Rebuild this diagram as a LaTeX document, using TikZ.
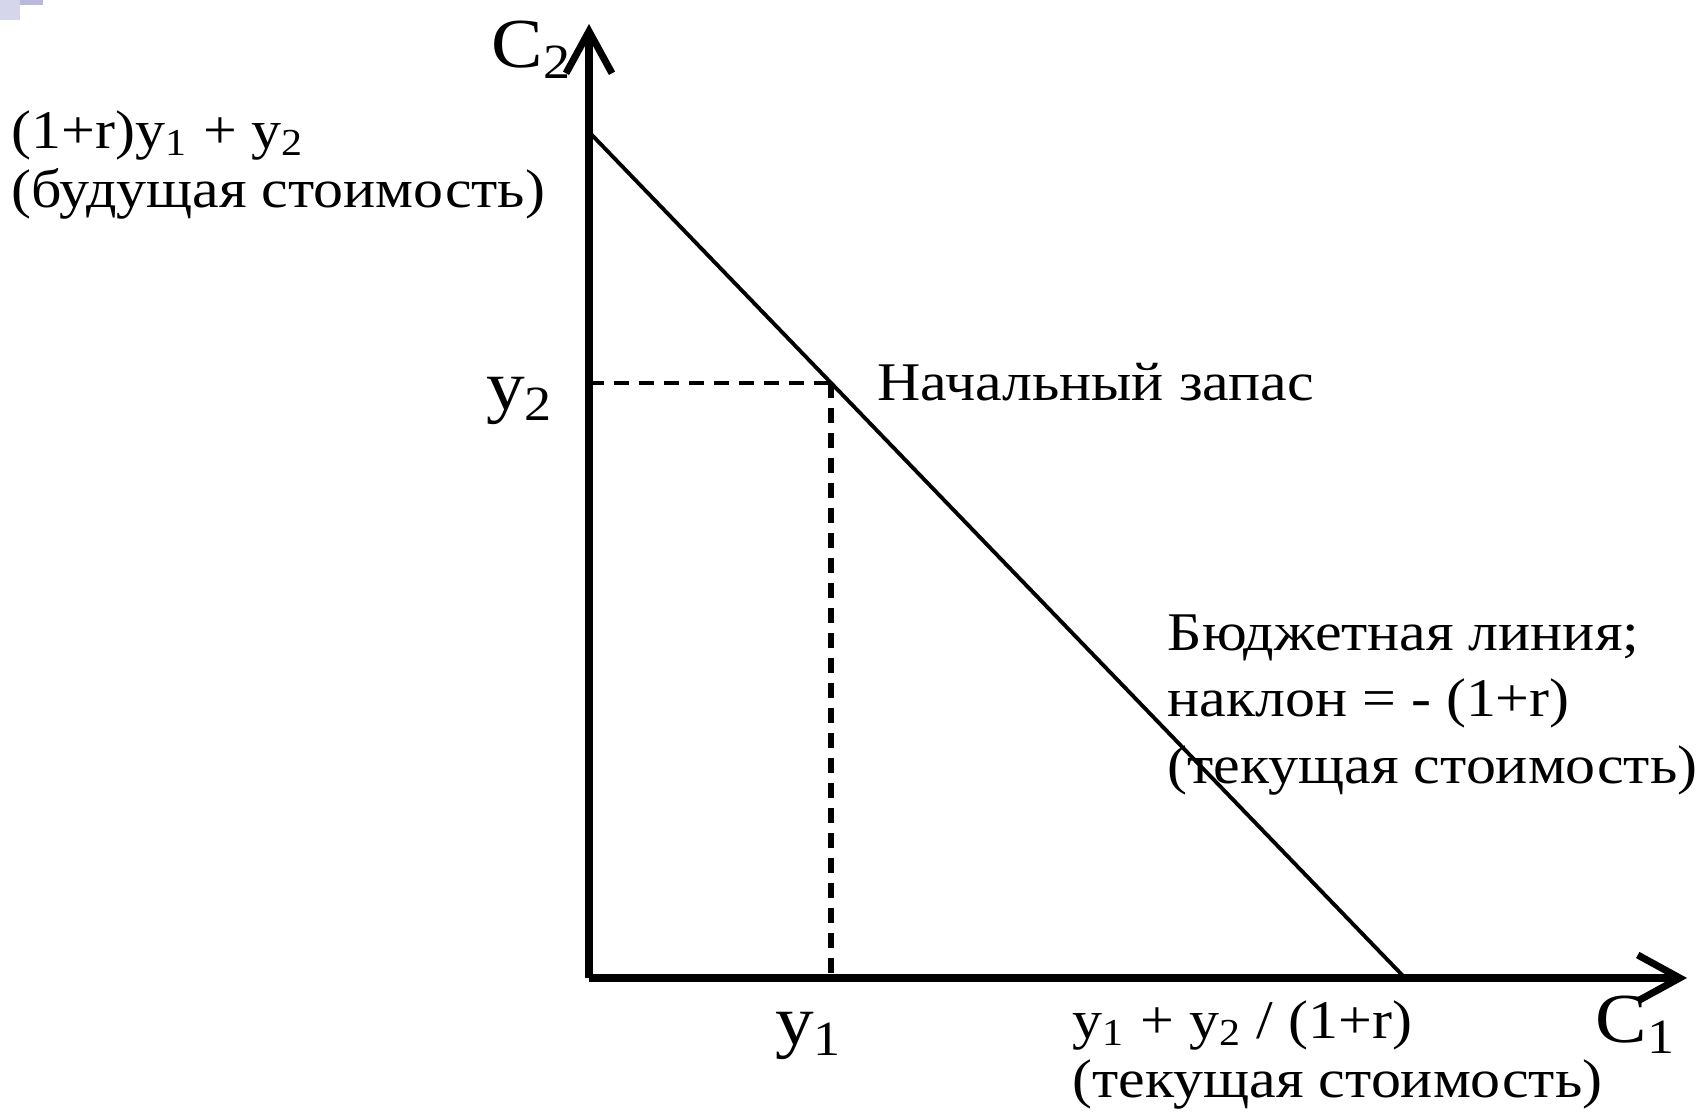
\documentclass[tikz,border=0pt]{standalone}
\usepackage{fontspec}
\setmainfont[FakeStretch=1.1]{Liberation Serif}
\usepackage{xcolor}
\usetikzlibrary{arrows.meta,positioning}
\definecolor{slidemark}{HTML}{B9B9E0}

\begin{document}
\begin{tikzpicture}[
          every node/.style={font=\fontsize{15.5}{17}\selectfont,inner sep=0pt},
          axis/.style={line width=2pt,-{Straight Barb[length=4.2mm,width=4.6mm,line width=2pt]}},
          budgetline/.style={line width=1.1pt},
          guide/.style={line width=1.3pt,dash pattern=on 1.5mm off 1mm},
          lbl/.style={anchor=west,align=left},
          axlbl/.style={font=\fontsize{20}{22}\selectfont}
      ]
        \useasboundingbox (0,0) rectangle (17.01,11.12);
        % slide corner mark
        \fill[slidemark!60] (0,10.92) rectangle (0.2,11.12);
        \fill[slidemark] (0.2,11.07) rectangle (0.43,11.12);

        \coordinate (O) at (5.89,1.34);
        \coordinate (ytop) at (5.89,10.88);
        \coordinate (xtip) at (16.87,1.34);
        \coordinate (btop) at (5.89,9.80);
        \coordinate (bbot) at (14.05,1.34);
        \coordinate (E) at (8.31,7.29);

        \draw[axis] (O) -- (ytop);
        \draw[axis] (O) -- (xtip);
        \draw[budgetline] (btop) -- (bbot);
        \draw[guide] (O |- E) -- (E);
        \draw[guide,line width=1.7pt] (E) -- (E |- O);

        \node[axlbl] (c2lab) at (5.32,10.62) {C\textsubscript{2}};
        \node[lbl] (fvlab) at (0.11,9.47)
          {(1+r)y\textsubscript{1} + y\textsubscript{2}\\(будущая стоимость)};
        \node[axlbl] (y2lab) at (5.20,7.11) {y\textsubscript{2}};
        \node[lbl] (endow) at (8.77,7.30) {Начальный запас};
        \node[lbl,font=\fontsize{15.5}{19}\selectfont] (budget) at (11.67,4.07)
          {Бюджетная линия;\\наклон = - (1+r)\\(текущая стоимость)};
        \node[axlbl] (y1lab) at (8.09,0.76) {y\textsubscript{1}};
        \node[lbl] (pvlab) at (10.72,0.57)
          {y\textsubscript{1} + y\textsubscript{2} / (1+r)\\(текущая стоимость)};
        \node[axlbl] (c1lab) at (16.36,0.87) {C\textsubscript{1}};
      \end{tikzpicture}
\end{document}
